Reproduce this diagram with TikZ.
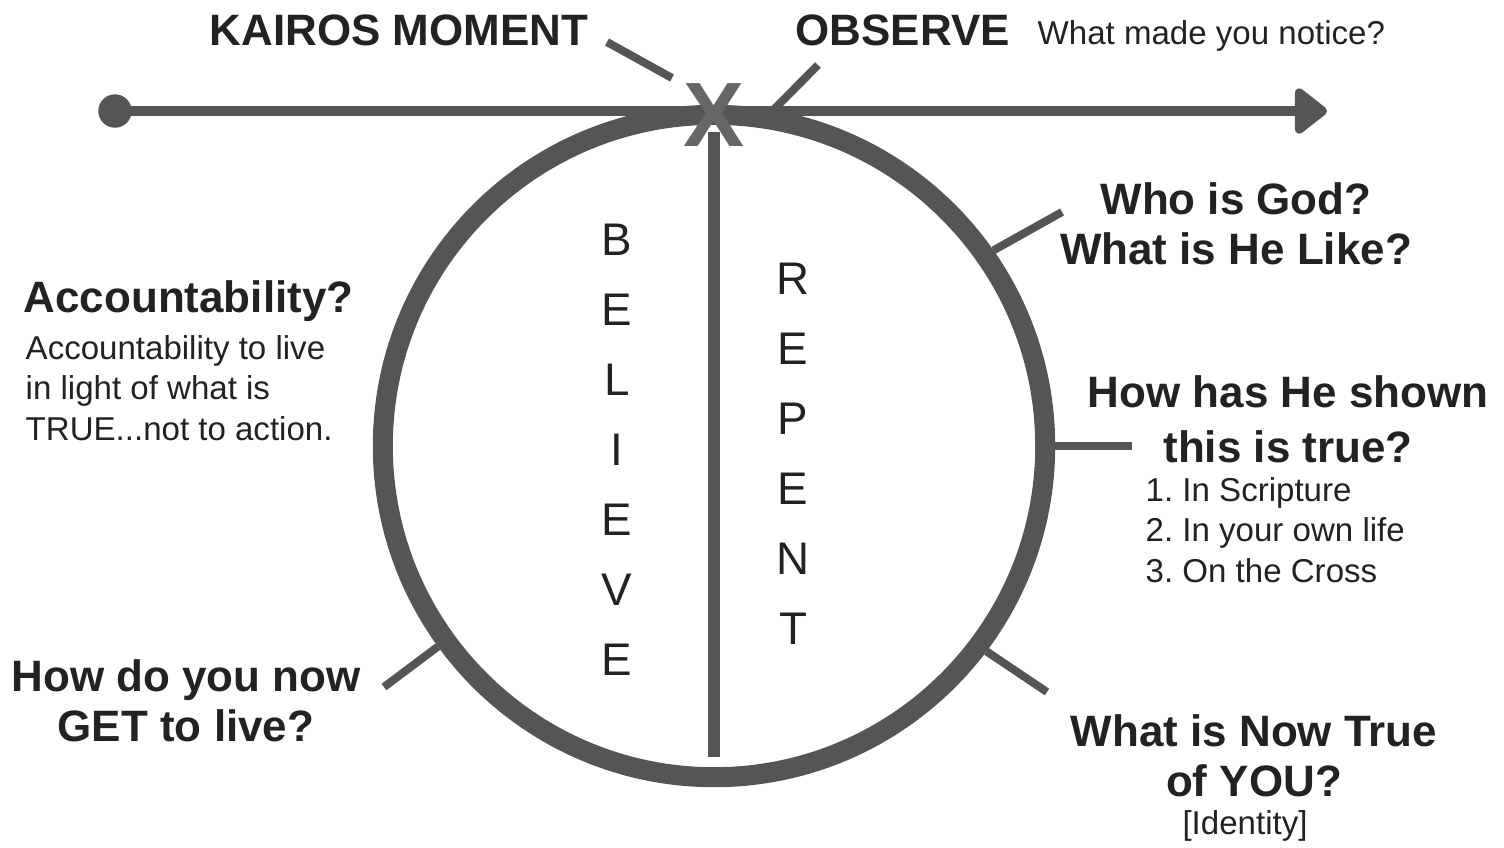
\documentclass[tikz,border=0pt]{standalone}
\usepackage{fontspec}
\setmainfont{Liberation Sans}
\frenchspacing
\usetikzlibrary{arrows.meta}

\definecolor{linegray}{HTML}{555555}
\definecolor{xgray}{HTML}{666666}
\definecolor{textdark}{HTML}{222222}

\tikzset{
  head/.style={font=\fontsize{12.5}{14}\selectfont\bfseries, text=textdark, inner sep=0pt, anchor=base},
  note/.style={font=\fontsize{9.4}{11.4}\selectfont, text=textdark, inner sep=0pt, anchor=base},
  bigletter/.style={font=\fontsize{13}{13}\selectfont, text=textdark, inner sep=0pt, anchor=base},
  tick/.style={line width=0.08cm, linegray},
  dot/.style={circle, fill=linegray, minimum size=0.334cm, inner sep=0pt},
  ring/.style={circle, draw=linegray, line width=0.2cm, minimum size=6.62cm, inner sep=0pt}
}

\begin{document}
\begin{tikzpicture}[x=0.01cm, y=-0.01cm]
    \useasboundingbox (0,0) rectangle (1504,847);

    % Timeline
    \node[dot] (start) at (115,111) {};
    \coordinate (end) at (1327,111);
    \draw[line width=0.1cm, linegray, -{Triangle[length=0.35cm, width=0.52cm, round]}] (start.center) -- (end);

    % Circle with divider
    \node[ring] (circ) at (714,446) {};
    \coordinate (divtop) at (714,132);
    \coordinate (divbot) at (714,757);
    \draw[line width=0.12cm, linegray] (divtop) -- (divbot);

    % The moment on the line
    \node[font=\fontsize{26}{26}\selectfont\bfseries, text=xgray, inner sep=0pt] (xmark) at (714,115.5) {X};

    % Believe / Repent
    \foreach \ch [count=\i] in {B,E,L,I,E,V,E}
        \node[bigletter] (bel\i) at (617,{185+70*\i}) {\ch};
    \foreach \ch [count=\i] in {R,E,P,E,N,T}
        \node[bigletter] (rep\i) at (793,{224+70*\i}) {\ch};

    % Labels (multi-line ones sit on their last baseline)
    \node[head] (kairos) at (399,45) {KAIROS MOMENT};
    \node[head, anchor=base west] (observe) at (795,45) {OBSERVE};
    \node[note, anchor=base west] (notice) at (1037,44) {What made you notice?};
    \node[head, align=center] (god) at (1236,264) {Who is God?\\What is He Like?};
    \node[head, anchor=base west] (acc) at (23,312) {Accountability?};
    \node[note, anchor=base west, align=left] (accnote) at (25,440) {Accountability to live\\in light of what is\\TRUE...not to action.};
    \node[head, align=center] (shown) at (1288,462) {How has He shown\\[1.4pt]this is true?};
    \node[note, anchor=base west, align=left] (ways) at (1145,582) {1. In Scripture\\2. In your own life\\3. On the Cross};
    \node[head, align=center] (live) at (186,741) {How do you now\\GET to live?};
    \node[head, align=center] (truth) at (1254,796) {What is Now True\\of YOU?};
    \node[note] (identity) at (1245,834) {[Identity]};

    % Ticks
    \coordinate (kairosa) at (607,42);
    \coordinate (kairosb) at (672,78);
    \draw[tick] (kairosa) -- (kairosb);
    \coordinate (observeend) at (818,65);
    \draw[tick] (circ.80) -- (observeend);
    \coordinate (godend) at (1062,212);
    \draw[tick] (circ.35) -- (godend);
    \coordinate (shownend) at (1132,446);
    \draw[tick] (circ.0) -- (shownend);
    \coordinate (truthend) at (1047,692);
    \draw[tick] (circ.-37.6) -- (truthend);
    \coordinate (liveend) at (384,687);
    \draw[tick] (circ.216.6) -- (liveend);
\end{tikzpicture}
\end{document}
